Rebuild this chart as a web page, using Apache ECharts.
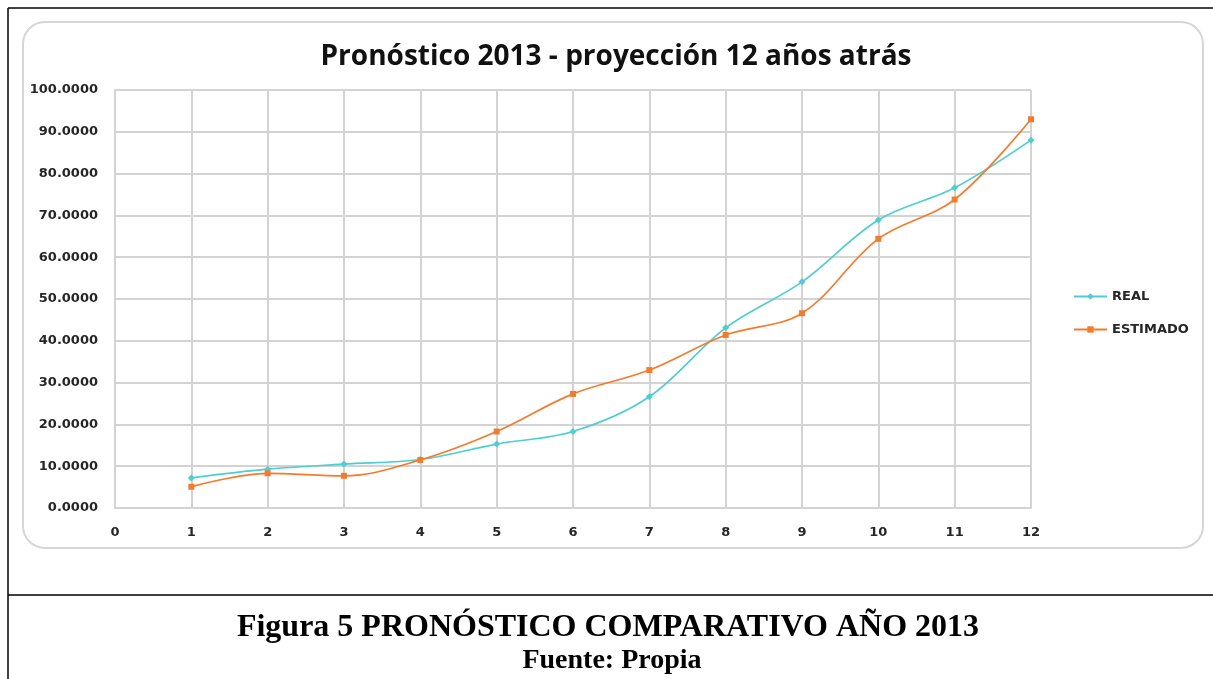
<!DOCTYPE html>
<html>
<head>
<meta charset="utf-8">
<title>Pronóstico 2013</title>
<script src="https://cdn.jsdelivr.net/npm/echarts@6/dist/echarts.min.js"></script>
<style>
  html, body { margin: 0; padding: 0; background: #fff; }
  #chart { width: 1213px; height: 679px; }
</style>
</head>
<body>
<div id="chart"></div>
<script>
// values
var years = [1, 2, 3, 4, 5, 6, 7, 8, 9, 10, 11, 12]
var real = [7.2, 9.3, 10.5, 11.6, 15.3, 18.3, 26.6, 43.1, 54.1, 68.9, 76.6, 88.0]
var estimado = [5.1, 8.3, 7.7, 11.5, 18.3, 27.3, 33.0, 41.4, 46.6, 64.4, 73.8, 93.0]
var seriesNames = ['REAL', 'ESTIMADO']
var chartTitle = 'Pronóstico 2013 - proyección 12 años atrás'
var captionLines = ['Figura 5 PRONÓSTICO COMPARATIVO AÑO 2013', 'Fuente: Propia']

var realColor = '#4ccfd0'
var estColor = '#f77a2a'
var gridColor = '#d3d3d3'
var labelFont = '"DejaVu Sans", sans-serif'

function pairs (xs, ys) {
  return xs.map(function (x, i) { return [x, ys[i]] })
}

var option = {
  animation: false,
  backgroundColor: '#fff',
  title: {
    text: chartTitle,
    left: 611,
    top: 38,
    textAlign: 'center',
    textStyle: {
      fontFamily: '"Open Sans", sans-serif',
      fontWeight: 'bold',
      fontSize: 28,
      color: '#111'
    }
  },
  legend: {
    orient: 'vertical',
    left: 1073,
    top: 290,
    padding: 0,
    itemWidth: 33,
    itemHeight: 8,
    itemGap: 20,
    data: seriesNames,
    textStyle: { fontFamily: labelFont, fontSize: 13, fontWeight: 'bold', color: '#262626' }
  },
  grid: {
    left: 115,
    right: 182,
    top: 90,
    bottom: 171
  },
  xAxis: {
    type: 'value',
    min: 0,
    max: 12,
    interval: 1,
    axisLine: { show: true, lineStyle: { color: gridColor, width: 2 } },
    axisTick: { show: false },
    splitLine: { show: true, lineStyle: { color: gridColor, width: 2 } },
    axisLabel: {
      margin: 18,
      fontFamily: labelFont,
      fontSize: 13,
      fontWeight: 'bold',
      color: '#262626'
    }
  },
  yAxis: {
    type: 'value',
    min: 0,
    max: 100,
    interval: 10,
    axisLine: { show: true, lineStyle: { color: gridColor, width: 2 } },
    axisTick: { show: false },
    splitLine: { show: true, lineStyle: { color: gridColor, width: 2 } },
    axisLabel: {
      margin: 17,
      fontFamily: labelFont,
      fontSize: 13,
      fontWeight: 'bold',
      color: '#262626',
      formatter: function (v) { return v.toFixed(4) }
    }
  },
  graphic: [
    // document frame lines
    { type: 'line', z: 0, shape: { x1: 8, y1: 8, x2: 1213, y2: 8 }, style: { stroke: '#000', lineWidth: 1.5 } },
    { type: 'line', z: 0, shape: { x1: 8, y1: 8, x2: 8, y2: 679 }, style: { stroke: '#000', lineWidth: 1.5 } },
    { type: 'line', z: 0, shape: { x1: 8, y1: 595, x2: 1213, y2: 595 }, style: { stroke: '#000', lineWidth: 1.5 } },
    // chart area box
    {
      type: 'rect',
      z: -1,
      shape: { x: 23, y: 22, width: 1180, height: 526, r: 22 },
      style: { fill: '#fff', stroke: '#d6d6d6', lineWidth: 2 }
    },
    {
      type: 'text',
      x: 608,
      y: 628,
      style: {
        text: captionLines[0],
        align: 'center',
        verticalAlign: 'middle',
        font: 'bold 32px "Liberation Serif", serif',
        fill: '#000'
      }
    },
    {
      type: 'text',
      x: 612,
      y: 661,
      style: {
        text: captionLines[1],
        align: 'center',
        verticalAlign: 'middle',
        font: 'bold 28px "Liberation Serif", serif',
        fill: '#000'
      }
    }
  ],
  series: [
    {
      name: seriesNames[0],
      type: 'line',
      smooth: 0.35,
      data: pairs(years, real),
      symbol: 'diamond',
      symbolSize: 7,
      color: realColor,
      lineStyle: { width: 1.7, color: realColor },
      itemStyle: { color: realColor }
    },
    {
      name: seriesNames[1],
      type: 'line',
      smooth: 0.35,
      data: pairs(years, estimado),
      symbol: 'rect',
      symbolSize: 6,
      color: estColor,
      lineStyle: { width: 1.7, color: estColor },
      itemStyle: { color: estColor }
    }
  ]
}

var myChart = echarts.init(document.getElementById('chart'))
myChart.setOption(option)
</script>
</body>
</html>
